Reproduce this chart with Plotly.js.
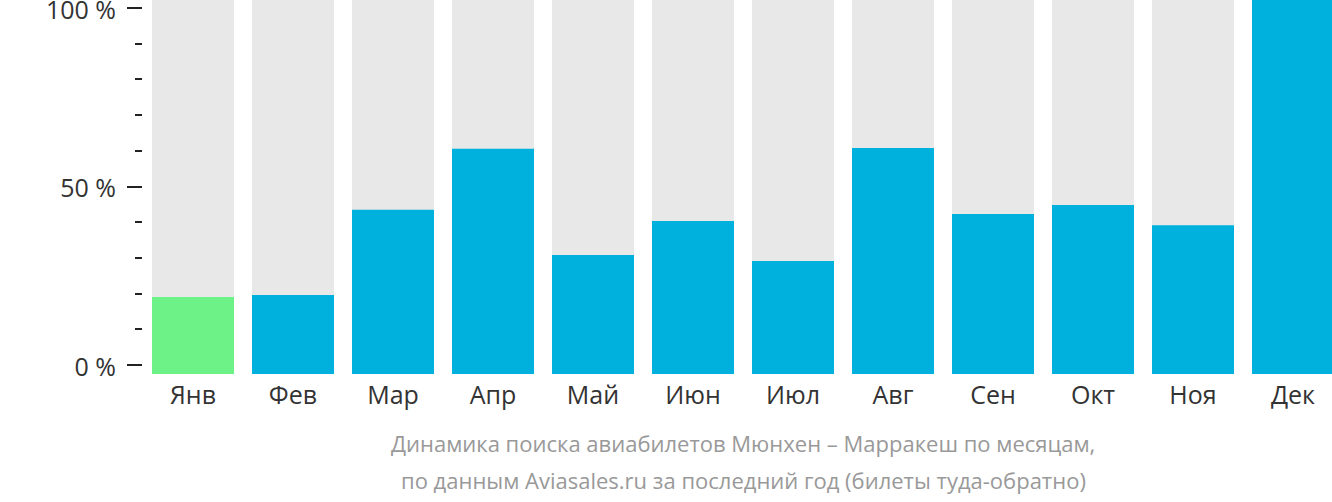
<!DOCTYPE html>
<html>
<head>
<meta charset="utf-8">
<script src="https://cdn.plot.ly/plotly-3.0.1.min.js"></script>
<style>html,body{margin:0;padding:0;background:#fff;}#chart{width:1332px;height:502px;}</style>
</head>
<body>
<div id="chart"></div>
<script>
const months = ["Янв","Фев","Мар","Апр","Май","Июн","Июл","Авг","Сен","Окт","Ноя","Дек"];
const values = [20.6, 21.1, 43.9, 60.2, 31.8, 40.9, 30.2, 60.4, 42.8, 45.2, 39.8, 100];
const background = [100, 100, 100, 100, 100, 100, 100, 100, 100, 100, 100, 100];
const barColors = ["#6cf286","#00b1dd","#00b1dd","#00b1dd","#00b1dd","#00b1dd","#00b1dd","#00b1dd","#00b1dd","#00b1dd","#00b1dd","#00b1dd"];
const yTickVals = [0, 50, 100];
const yTickText = ["0 %", "50 %", "100 %"];
const titleLines = ["Динамика поиска авиабилетов Мюнхен – Марракеш по месяцам,", "по данным Aviasales.ru за последний год (билеты туда-обратно)"];

const traces = [
  {type:"bar", x:months, y:background, marker:{color:"#e8e8e8"}, width:0.82, hoverinfo:"skip", showlegend:false},
  {type:"bar", x:months, y:values, marker:{color:barColors}, width:0.82, showlegend:false},
  {type:"scatter", x:months, y:months.map(()=>null), yaxis:"y2", mode:"markers", marker:{opacity:0}, hoverinfo:"skip", showlegend:false}
];

const layout = {
  width:1332, height:502,
  margin:{l:143, r:0, t:0, b:128, pad:0},
  paper_bgcolor:"#fff", plot_bgcolor:"#fff",
  barmode:"overlay",
  font:{family:"Open Sans", color:"#333"},
  xaxis:{type:"category", range:[-0.5, 11.39], showgrid:false, zeroline:false, showline:false,
         ticks:"", tickfont:{size:25, color:"#333"}, ticklabelstandoff:4, fixedrange:true},
  yaxis:{range:[0,100], visible:false, fixedrange:true},
  yaxis2:{overlaying:"y", side:"left", range:[-2.52, 102.24], showgrid:false, zeroline:false, showline:false,
          tickmode:"array", tickvals:yTickVals, ticktext:yTickText, ticklabeloverflow:"allow",
          ticks:"outside", ticklen:15, tickwidth:2, tickcolor:"#222",
          tickfont:{size:25, color:"#333"}, ticklabelstandoff:6, ticklabelshift:2,
          minor:{dtick:10, tick0:0, ticks:"outside", ticklen:7, tickwidth:2, tickcolor:"#222"},
          fixedrange:true},
  annotations:[
    {text:titleLines[0], xref:"x", x:5.5, yref:"paper", y:(374-443)/374, yanchor:"middle", xanchor:"center", showarrow:false,
     font:{size:22, color:"#999", family:"Open Sans"}},
    {text:titleLines[1], xref:"x", x:5.5, yref:"paper", y:(374-480)/374, yanchor:"middle", xanchor:"center", showarrow:false,
     font:{size:22, color:"#999", family:"Open Sans"}}
  ]
};
Plotly.newPlot("chart", traces, layout, {displayModeBar:false, staticPlot:true});
</script>
</body>
</html>
